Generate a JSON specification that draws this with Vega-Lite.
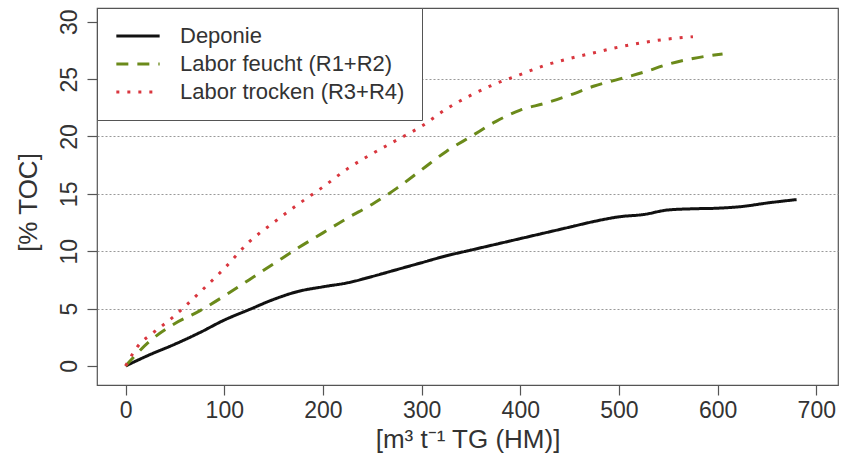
{
  "$schema": "https://vega.github.io/schema/vega-lite/v6.json",
  "width": 741,
  "height": 377,
  "autosize": {"type": "none"},
  "padding": {"left": 97, "top": 8, "right": 7, "bottom": 75},
  "background": "white",
  "config": {
    "font": "Liberation Sans",
    "view": {"stroke": "#555", "strokeWidth": 1.2}
  },
  "data": {
    "values": [
      {"s": "Deponie", "x": 0, "y": 0},
      {"s": "Deponie", "x": 25, "y": 1.0},
      {"s": "Deponie", "x": 50, "y": 1.9},
      {"s": "Deponie", "x": 75, "y": 2.9},
      {"s": "Deponie", "x": 100, "y": 4.0},
      {"s": "Deponie", "x": 125, "y": 4.9},
      {"s": "Deponie", "x": 150, "y": 5.8},
      {"s": "Deponie", "x": 175, "y": 6.5},
      {"s": "Deponie", "x": 200, "y": 6.9},
      {"s": "Deponie", "x": 225, "y": 7.25},
      {"s": "Deponie", "x": 250, "y": 7.8},
      {"s": "Deponie", "x": 275, "y": 8.4},
      {"s": "Deponie", "x": 300, "y": 9.0},
      {"s": "Deponie", "x": 325, "y": 9.6},
      {"s": "Deponie", "x": 350, "y": 10.1},
      {"s": "Deponie", "x": 375, "y": 10.6},
      {"s": "Deponie", "x": 400, "y": 11.1},
      {"s": "Deponie", "x": 425, "y": 11.6},
      {"s": "Deponie", "x": 450, "y": 12.1},
      {"s": "Deponie", "x": 475, "y": 12.6},
      {"s": "Deponie", "x": 500, "y": 13.0},
      {"s": "Deponie", "x": 525, "y": 13.2},
      {"s": "Deponie", "x": 550, "y": 13.6},
      {"s": "Deponie", "x": 575, "y": 13.7},
      {"s": "Deponie", "x": 600, "y": 13.75},
      {"s": "Deponie", "x": 625, "y": 13.9},
      {"s": "Deponie", "x": 650, "y": 14.2},
      {"s": "Deponie", "x": 680, "y": 14.5},
      {"s": "Labor feucht (R1+R2)", "x": 0, "y": 0},
      {"s": "Labor feucht (R1+R2)", "x": 25, "y": 2.2},
      {"s": "Labor feucht (R1+R2)", "x": 50, "y": 3.7},
      {"s": "Labor feucht (R1+R2)", "x": 75, "y": 4.8},
      {"s": "Labor feucht (R1+R2)", "x": 100, "y": 6.1},
      {"s": "Labor feucht (R1+R2)", "x": 125, "y": 7.5},
      {"s": "Labor feucht (R1+R2)", "x": 150, "y": 8.9},
      {"s": "Labor feucht (R1+R2)", "x": 175, "y": 10.3},
      {"s": "Labor feucht (R1+R2)", "x": 200, "y": 11.6},
      {"s": "Labor feucht (R1+R2)", "x": 225, "y": 12.9},
      {"s": "Labor feucht (R1+R2)", "x": 250, "y": 14.1},
      {"s": "Labor feucht (R1+R2)", "x": 275, "y": 15.5},
      {"s": "Labor feucht (R1+R2)", "x": 300, "y": 17.1},
      {"s": "Labor feucht (R1+R2)", "x": 325, "y": 18.7},
      {"s": "Labor feucht (R1+R2)", "x": 350, "y": 20.0},
      {"s": "Labor feucht (R1+R2)", "x": 375, "y": 21.3},
      {"s": "Labor feucht (R1+R2)", "x": 400, "y": 22.3},
      {"s": "Labor feucht (R1+R2)", "x": 425, "y": 22.9},
      {"s": "Labor feucht (R1+R2)", "x": 450, "y": 23.6},
      {"s": "Labor feucht (R1+R2)", "x": 475, "y": 24.4},
      {"s": "Labor feucht (R1+R2)", "x": 500, "y": 25.0},
      {"s": "Labor feucht (R1+R2)", "x": 525, "y": 25.6},
      {"s": "Labor feucht (R1+R2)", "x": 550, "y": 26.3},
      {"s": "Labor feucht (R1+R2)", "x": 575, "y": 26.8},
      {"s": "Labor feucht (R1+R2)", "x": 605, "y": 27.2},
      {"s": "Labor trocken (R3+R4)", "x": 0, "y": 0},
      {"s": "Labor trocken (R3+R4)", "x": 15, "y": 2.0},
      {"s": "Labor trocken (R3+R4)", "x": 25, "y": 2.7},
      {"s": "Labor trocken (R3+R4)", "x": 50, "y": 4.4},
      {"s": "Labor trocken (R3+R4)", "x": 75, "y": 6.4},
      {"s": "Labor trocken (R3+R4)", "x": 100, "y": 8.5},
      {"s": "Labor trocken (R3+R4)", "x": 125, "y": 10.8},
      {"s": "Labor trocken (R3+R4)", "x": 150, "y": 12.5},
      {"s": "Labor trocken (R3+R4)", "x": 175, "y": 14.1},
      {"s": "Labor trocken (R3+R4)", "x": 200, "y": 15.6},
      {"s": "Labor trocken (R3+R4)", "x": 225, "y": 17.2},
      {"s": "Labor trocken (R3+R4)", "x": 250, "y": 18.5},
      {"s": "Labor trocken (R3+R4)", "x": 275, "y": 19.7},
      {"s": "Labor trocken (R3+R4)", "x": 300, "y": 20.9},
      {"s": "Labor trocken (R3+R4)", "x": 325, "y": 22.4},
      {"s": "Labor trocken (R3+R4)", "x": 350, "y": 23.6},
      {"s": "Labor trocken (R3+R4)", "x": 375, "y": 24.6},
      {"s": "Labor trocken (R3+R4)", "x": 400, "y": 25.4},
      {"s": "Labor trocken (R3+R4)", "x": 425, "y": 26.2},
      {"s": "Labor trocken (R3+R4)", "x": 450, "y": 26.8},
      {"s": "Labor trocken (R3+R4)", "x": 475, "y": 27.3},
      {"s": "Labor trocken (R3+R4)", "x": 500, "y": 27.8},
      {"s": "Labor trocken (R3+R4)", "x": 525, "y": 28.2},
      {"s": "Labor trocken (R3+R4)", "x": 550, "y": 28.5},
      {"s": "Labor trocken (R3+R4)", "x": 575, "y": 28.7}
    ]
  },
  "mark": {"type": "line", "strokeWidth": 3, "strokeCap": "butt", "interpolate": "monotone"},
  "encoding": {
    "x": {
      "field": "x", "type": "quantitative",
      "scale": {"domain": [-29, 722], "nice": false, "zero": false},
      "axis": {
        "values": [0, 100, 200, 300, 400, 500, 600, 700],
        "grid": false, "domain": false,
        "tickSize": 10, "tickColor": "#555", "tickWidth": 1.2,
        "labelFontSize": 23, "labelColor": "#333", "labelPadding": 4,
        "title": "[m³ t⁻¹ TG (HM)]", "titleFontSize": 26, "titleFontWeight": "normal",
        "titleColor": "#333", "titleBaseline": "middle", "titleY": 54
      }
    },
    "y": {
      "field": "y", "type": "quantitative",
      "scale": {"domain": [-1.66, 31.2], "nice": false, "zero": false},
      "axis": {
        "values": [0, 5, 10, 15, 20, 25, 30],
        "grid": true, "gridColor": "#999", "gridDash": [2, 2], "gridWidth": 1,
        "gridOpacity": {"condition": {"test": "datum.value == 0 || datum.value == 30", "value": 0}, "value": 1},
        "domain": false,
        "tickSize": 10, "tickColor": "#555", "tickWidth": 1.2,
        "labelAngle": -90, "labelAlign": "center", "labelBaseline": "bottom",
        "labelFontSize": 23, "labelColor": "#333", "labelPadding": 6,
        "title": "[% TOC]", "titleFontSize": 26, "titleFontWeight": "normal",
        "titleColor": "#333", "titleAngle": -90, "titleAlign": "center", "titleBaseline": "middle",
        "titleX": -69, "titleY": 194
      }
    },
    "color": {
      "field": "s", "type": "nominal",
      "scale": {
        "domain": ["Deponie", "Labor feucht (R1+R2)", "Labor trocken (R3+R4)"],
        "range": ["#111111", "#6b8a1a", "#d9363e"]
      },
      "legend": {
        "title": null, "orient": "none", "legendX": 0, "legendY": 0,
        "symbolType": "M-1,0H4", "symbolSize": 300, "symbolStrokeWidth": 3,
        "labelFontSize": 22, "labelColor": "#333", "labelOffset": 44,
        "rowPadding": 6, "padding": 17,
        "strokeColor": "#555", "fillColor": "white", "cornerRadius": 0,
        "labelLimit": 400
      }
    },
    "strokeDash": {
      "field": "s", "type": "nominal",
      "scale": {
        "domain": ["Deponie", "Labor feucht (R1+R2)", "Labor trocken (R3+R4)"],
        "range": [[1, 0], [12, 9], [3, 8]]
      },
      "legend": null
    }
  }
}
